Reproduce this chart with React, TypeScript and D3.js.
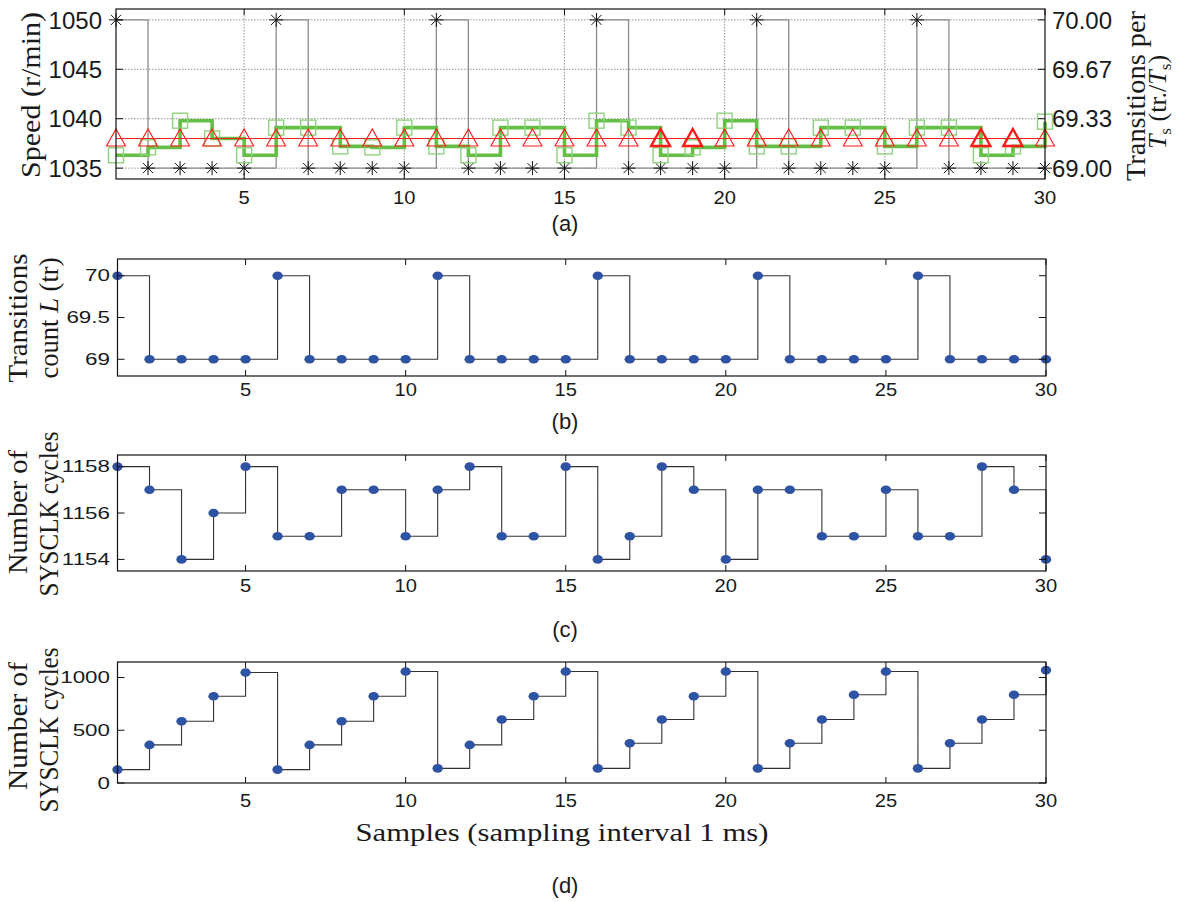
import React, { useEffect, useRef } from 'react';
import * as d3 from 'd3';

// sample index on the x axis (1 ms each)
const samples = [1, 2, 3, 4, 5, 6, 7, 8, 9, 10, 11, 12, 13, 14, 15, 16, 17, 18, 19, 20, 21, 22, 23, 24, 25, 26, 27, 28, 29, 30];

// (a) measured speed (green squares / stairs) and reference speed (red triangles)
const speedMeasured = [1036.3, 1037.1, 1039.8, 1038.0, 1036.3, 1039.1, 1039.1, 1037.2, 1037.1, 1039.1,
  1037.2, 1036.3, 1039.1, 1039.1, 1036.3, 1039.8, 1039.1, 1036.3, 1037.1, 1039.8,
  1037.2, 1037.2, 1039.1, 1039.1, 1037.2, 1039.1, 1039.1, 1036.3, 1037.2, 1039.7];
const speedReference = [1038, 1038, 1038, 1038, 1038, 1038, 1038, 1038, 1038, 1038,
  1038, 1038, 1038, 1038, 1038, 1038, 1038, 1038, 1038, 1038,
  1038, 1038, 1038, 1038, 1038, 1038, 1038, 1038, 1038, 1038];
const boldRefSamples = [18, 19, 28, 29];
// (a) right axis: transitions per Ts (black stars)
const transitionsPerTs = [70, 69, 69, 69, 69, 70, 69, 69, 69, 69, 70, 69, 69, 69, 69,
  70, 69, 69, 69, 69, 70, 69, 69, 69, 69, 70, 69, 69, 69, 69];

// (b) transitions count L
const transitionCount = [70, 69, 69, 69, 69, 70, 69, 69, 69, 69, 70, 69, 69, 69, 69,
  70, 69, 69, 69, 69, 70, 69, 69, 69, 69, 70, 69, 69, 69, 69];

// (c) SYSCLK cycles per transition period
const sysclkCycles = [1158, 1157, 1154, 1156, 1158, 1155, 1155, 1157, 1157, 1155,
  1157, 1158, 1155, 1155, 1158, 1154, 1155, 1158, 1157, 1154,
  1157, 1157, 1155, 1155, 1157, 1155, 1155, 1158, 1157, 1154];

// (d) SYSCLK cycles remainder
const sysclkRemainder = [127, 361, 586, 823, 1048, 127, 361, 586, 823, 1057,
  139, 361, 602, 823, 1057, 139, 377, 602, 823, 1057,
  139, 377, 602, 836, 1057, 139, 377, 602, 836, 1070];

const xTicks = [5, 10, 15, 20, 25, 30];
const speedTicks = [1035, 1040, 1045, 1050];
const transTickValues = [69, 69 + 1 / 3, 69 + 2 / 3, 70];
const transTickLabels = ['69.00', '69.33', '69.67', '70.00'];
const countTicks = [69, 69.5, 70];
const cycleTicks = [1154, 1156, 1158];
const remainderTicks = [0, 500, 1000];

const SANS = "'Liberation Sans', Arial, sans-serif";
const SERIF = "'Liberation Serif', 'Times New Roman', serif";
const DOT = '#2f52a3';
const STEP = '#333';

type G = d3.Selection<SVGGElement, unknown, null, undefined>;

// text helper: MATLAB export looks horizontally stretched for some labels
function label(g: G, x: number, y: number, s: string, size: number, anchor: string, sx = 1) {
  return g.append('text')
    .attr('transform', `translate(${x},${y}) scale(${sx},1)`)
    .attr('text-anchor', anchor)
    .attr('dy', '0.36em')
    .attr('font-family', SANS)
    .attr('font-size', size)
    .attr('fill', '#1a1a1a')
    .text(s);
}

function frame(g: G, x: d3.ScaleLinear<number, number>, y: d3.ScaleLinear<number, number>) {
  const [l, r] = x.range();
  const [b, t] = y.range();
  g.append('rect')
    .attr('x', l).attr('y', t)
    .attr('width', r - l).attr('height', b - t)
    .attr('fill', 'none').attr('stroke', '#111').attr('stroke-width', 1.2);
  // inner ticks top/bottom
  xTicks.forEach(v => {
    g.append('line').attr('x1', x(v)).attr('x2', x(v)).attr('y1', t).attr('y2', t + 6).attr('stroke', '#111');
    g.append('line').attr('x1', x(v)).attr('x2', x(v)).attr('y1', b).attr('y2', b - 6).attr('stroke', '#111');
  });
}

function yTicksInner(g: G, x: d3.ScaleLinear<number, number>, y: d3.ScaleLinear<number, number>, ticks: number[]) {
  const [l, r] = x.range();
  ticks.forEach(v => {
    g.append('line').attr('x1', l).attr('x2', l + 7).attr('y1', y(v)).attr('y2', y(v)).attr('stroke', '#111');
    g.append('line').attr('x1', r).attr('x2', r - 7).attr('y1', y(v)).attr('y2', y(v)).attr('stroke', '#111');
  });
}

function xTickLabels(g: G, x: d3.ScaleLinear<number, number>, yPos: number) {
  xTicks.forEach(v => label(g, x(v), yPos, String(v), 18, 'middle', 1.12));
}

function rotLabel(g: G, x: number, y: number, size: number, len?: number) {
  const t = g.append('text')
    .attr('transform', `translate(${x},${y}) rotate(-90)`)
    .attr('text-anchor', 'middle')
    .attr('font-family', SERIF)
    .attr('font-size', size)
    .attr('fill', '#1a1a1a');
  if (len) t.attr('textLength', len).attr('lengthAdjust', 'spacingAndGlyphs');
  return t;
}

function stepPanel(g: G, x: d3.ScaleLinear<number, number>, y: d3.ScaleLinear<number, number>, values: number[]) {
  const line = d3.line<number>()
    .x((_, i) => x(samples[i]))
    .y(d => y(d))
    .curve(d3.curveStepAfter);
  g.append('path').attr('d', line(values) as string)
    .attr('fill', 'none').attr('stroke', STEP).attr('stroke-width', 1.1);
  g.selectAll('ellipse.dot')
    .data(values)
    .enter()
    .append('ellipse')
    .attr('cx', (_, i) => x(samples[i]))
    .attr('cy', d => y(d))
    .attr('rx', 5.2).attr('ry', 4.3)
    .attr('fill', DOT);
}

const App: React.FC = () => {
  const ref = useRef<SVGSVGElement | null>(null);

  useEffect(() => {
    const svg = d3.select(ref.current);
    svg.selectAll('*').remove();
    const root = svg.append('g') as unknown as G;

    // ---------------- (a) ----------------
    const xa = d3.scaleLinear().domain([1, 30]).range([116, 1045]);
    const ya = d3.scaleLinear().domain([1033.9, 1051.1]).range([179, 9]);
    const yr = d3.scaleLinear().domain([69, 70]).range([ya(1035), ya(1050)]);
    const ga = root.append('g') as unknown as G;

    // dotted grid
    speedTicks.forEach(v => {
      ga.append('line').attr('x1', xa(1)).attr('x2', xa(30)).attr('y1', ya(v)).attr('y2', ya(v))
        .attr('stroke', '#888').attr('stroke-dasharray', '1.5,1.5').attr('stroke-width', 0.9);
    });
    xTicks.slice(0, 5).forEach(v => {
      ga.append('line').attr('x1', xa(v)).attr('x2', xa(v)).attr('y1', 9).attr('y2', 179)
        .attr('stroke', '#888').attr('stroke-dasharray', '1.5,1.5').attr('stroke-width', 0.9);
    });

    // transitions per Ts: gray stairs + stars
    const transLine = d3.line<number>()
      .x((_, i) => xa(samples[i]))
      .y(d => yr(d))
      .curve(d3.curveStepAfter);
    ga.append('path').attr('d', transLine(transitionsPerTs) as string)
      .attr('fill', 'none').attr('stroke', '#8a8a8a').attr('stroke-width', 1.3);
    const sr = 7;
    const starPath = `M${-sr},0H${sr}M0,${-sr}V${sr}M${-0.72 * sr},${-0.72 * sr}L${0.72 * sr},${0.72 * sr}M${-0.72 * sr},${0.72 * sr}L${0.72 * sr},${-0.72 * sr}`;
    ga.selectAll('path.star')
      .data(transitionsPerTs)
      .enter()
      .append('path')
      .attr('class', 'star')
      .attr('d', starPath)
      .attr('transform', (d, i) => `translate(${xa(samples[i])},${yr(d)})`)
      .attr('fill', 'none').attr('stroke', '#111').attr('stroke-width', 1);

    // measured speed: thick green stairs + light squares
    const speedLine = d3.line<number>()
      .x((_, i) => xa(samples[i]))
      .y(d => ya(d))
      .curve(d3.curveStepAfter);
    ga.append('path').attr('d', speedLine(speedMeasured) as string)
      .attr('fill', 'none').attr('stroke', '#63bf45').attr('stroke-width', 3.6);
    ga.selectAll('rect.sq')
      .data(speedMeasured)
      .enter()
      .append('rect')
      .attr('class', 'sq')
      .attr('x', (_, i) => xa(samples[i]) - 7.5)
      .attr('y', d => ya(d) - 7.5)
      .attr('width', 15).attr('height', 15)
      .attr('fill', 'none').attr('stroke', '#8fd27f').attr('stroke-width', 1.4);

    // reference speed: red line + triangles
    ga.append('line').attr('x1', xa(1)).attr('x2', xa(30))
      .attr('y1', ya(speedReference[0])).attr('y2', ya(speedReference[29]))
      .attr('stroke', '#ff1a1a').attr('stroke-width', 1.1);
    const triPath = 'M0,-9.5L9.5,7.5L-9.5,7.5Z';
    ga.selectAll('path.tri')
      .data(speedReference)
      .enter()
      .append('path')
      .attr('class', 'tri')
      .attr('d', triPath)
      .attr('transform', (d, i) => `translate(${xa(samples[i])},${ya(d)})`)
      .attr('fill', 'none').attr('stroke', '#ff1a1a')
      .attr('stroke-width', (_, i) => boldRefSamples.includes(samples[i]) ? 2.4 : 1.1);

    frame(ga, xa, ya);
    yTicksInner(ga, xa, ya, speedTicks);
    speedTicks.forEach(v => label(ga, 102, ya(v), String(v), 24, 'end'));
    transTickValues.forEach((v, i) => label(ga, 1052, yr(v), transTickLabels[i], 24, 'start'));
    xTickLabels(ga, xa, 198);
    label(ga, 565, 223, '(a)', 22, 'middle');
    rotLabel(ga, 40, 95, 27, 166).text('Speed (r/min)');
    rotLabel(ga, 1145, 96, 27, 170).text('Transitions per');
    const rt = rotLabel(ga, 1166, 102, 26);
    rt.append('tspan').attr('font-style', 'italic').text('T');
    rt.append('tspan').attr('font-size', 17).attr('dy', 5).text('s');
    rt.append('tspan').attr('dy', -5).text(' (tr./');
    rt.append('tspan').attr('font-style', 'italic').text('T');
    rt.append('tspan').attr('font-size', 17).attr('dy', 5).text('s');
    rt.append('tspan').attr('dy', -5).text(')');

    // ---------------- (b) ----------------
    const xb = d3.scaleLinear().domain([1, 30]).range([117.5, 1046]);
    const yb = d3.scaleLinear().domain([68.8, 70.2]).range([376, 259]);
    const gb = root.append('g') as unknown as G;
    stepPanel(gb, xb, yb, transitionCount);
    frame(gb, xb, yb);
    yTicksInner(gb, xb, yb, countTicks);
    countTicks.forEach(v => label(gb, 110, yb(v), String(v), 16, 'end', 1.4));
    xTickLabels(gb, xb, 390);
    label(gb, 565, 421, '(b)', 22, 'middle');
    rotLabel(gb, 27, 318, 27, 129).text('Transitions');
    const cl = rotLabel(gb, 58, 318, 27, 121);
    cl.append('tspan').text('count ');
    cl.append('tspan').attr('font-style', 'italic').text('L');
    cl.append('tspan').text(' (tr)');

    // ---------------- (c) ----------------
    const xc = d3.scaleLinear().domain([1, 30]).range([117.5, 1046]);
    const yc = d3.scaleLinear().domain([1153.5, 1158.5]).range([571, 455]);
    const gc = root.append('g') as unknown as G;
    stepPanel(gc, xc, yc, sysclkCycles);
    frame(gc, xc, yc);
    yTicksInner(gc, xc, yc, cycleTicks);
    cycleTicks.forEach(v => label(gc, 110, yc(v), String(v), 16, 'end', 1.4));
    xTickLabels(gc, xc, 586);
    label(gc, 565, 629, '(c)', 22, 'middle');
    rotLabel(gc, 27, 512, 27, 124).text('Number of');
    rotLabel(gc, 58, 514, 27, 165).text('SYSCLK cycles');

    // ---------------- (d) ----------------
    const xd = d3.scaleLinear().domain([1, 30]).range([117.5, 1046]);
    const yd = d3.scaleLinear().domain([0, 1147]).range([783, 662]);
    const gd = root.append('g') as unknown as G;
    stepPanel(gd, xd, yd, sysclkRemainder);
    frame(gd, xd, yd);
    yTicksInner(gd, xd, yd, remainderTicks);
    remainderTicks.forEach(v => label(gd, 110, yd(v), String(v), 16, 'end', 1.4));
    xTickLabels(gd, xd, 801);
    rotLabel(gd, 27, 726, 27, 128).text('Number of');
    rotLabel(gd, 58, 730, 27, 165).text('SYSCLK cycles');
    const xl = gd.append('text')
      .attr('x', 562).attr('y', 841)
      .attr('text-anchor', 'middle')
      .attr('font-family', SERIF)
      .attr('font-size', 26)
      .attr('fill', '#1a1a1a')
      .attr('textLength', 413).attr('lengthAdjust', 'spacingAndGlyphs')
      .text('Samples (sampling interval 1 ms)');
    void xl;
    label(gd, 565, 885, '(d)', 22, 'middle');
  }, []);

  return (
    <div style={{ position: 'absolute', left: 0, top: 0 }}>
      <svg ref={ref} width={1179} height={902} style={{ display: 'block', background: '#fff' }} />
    </div>
  );
};

export default App;
